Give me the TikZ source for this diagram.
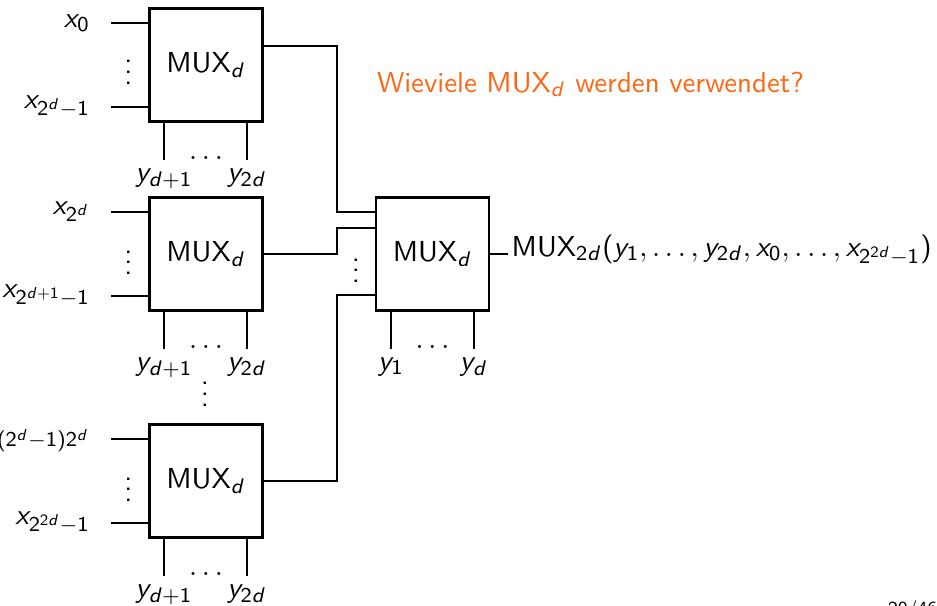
\documentclass[tikz,border=0pt]{standalone}
\usetikzlibrary{calc}
\DeclareSymbolFont{sfop}{OT1}{cmss}{m}{n}
\DeclareSymbolFont{sfit}{OT1}{cmss}{m}{sl}
\DeclareMathSymbol{x}{\mathalpha}{sfit}{`x}
\DeclareMathSymbol{y}{\mathalpha}{sfit}{`y}
\DeclareMathSymbol{d}{\mathalpha}{sfit}{`d}
\DeclareMathSymbol{0}{\mathalpha}{sfop}{`0}
\DeclareMathSymbol{1}{\mathalpha}{sfop}{`1}
\DeclareMathSymbol{2}{\mathalpha}{sfop}{`2}
\DeclareMathSymbol{(}{\mathopen}{sfop}{`(}
\DeclareMathSymbol{)}{\mathclose}{sfop}{`)}
\DeclareMathSymbol{+}{\mathbin}{sfop}{`+}
\DeclareMathSizes{10.95}{10.95}{8}{6.5}
\definecolor{qorange}{RGB}{255,102,20}
\begin{document}
\begin{tikzpicture}[x=0.379pt,y=-0.379pt,line width=0.8pt,
  font=\fontsize{10.95}{13}\selectfont\sffamily,
  mux/.style={draw,minimum width=42.8pt,minimum height=42.8pt,inner sep=0pt},
  lft/.style={inner sep=0pt,left=7.8pt},
  sel/.style={inner sep=0pt,anchor=base,yshift=-8.3pt},
  dts/.style={inner sep=0pt,anchor=base},
  ask/.style={inner sep=0pt,anchor=base west,text=qorange}]
\useasboundingbox (0,0) rectangle (937,605);
\clip (0,0) rectangle (937,605);

\node[mux] (b1) at (206,65) {MUX$_d$};
\node[mux] (b2) at (206,254) {MUX$_d$};
\node[mux] (b3) at (206,481) {MUX$_d$};
\node[mux] (m) at (432.5,254) {MUX$_d$};

% box 1
\draw ($(b1.west)+(0,-42)$) -- ++(-37,0) node[lft] {$x_0$};
\draw ($(b1.west)+(0,42)$) -- ++(-37,0) node[lft] {$x_{2^d-1}$};
\node[dts] (v1) at ($(b1.west)+(-20,19)$) {$\vdots$};
\draw ($(b1.south)+(-42,0)$) -- ++(0,37) node[sel] {$y_{d+1}$};
\draw ($(b1.south)+(41,0)$) -- ++(0,37) node[sel] {$y_{2d}$};
\node[dts] (h1) at ($(b1.south)+(0,37)$) {$\dots$};

% box 2
\draw ($(b2.west)+(0,-42)$) -- ++(-37,0) node[lft] {$x_{2^d}$};
\draw ($(b2.west)+(0,42)$) -- ++(-37,0) node[lft] {$x_{2^{d+1}-1}$};
\node[dts] (v2) at ($(b2.west)+(-20,20.5)$) {$\vdots$};
\draw ($(b2.south)+(-42,0)$) -- ++(0,37) node[sel] {$y_{d+1}$};
\draw ($(b2.south)+(41,0)$) -- ++(0,37) node[sel] {$y_{2d}$};
\node[dts] (h2) at ($(b2.south)+(0,37)$) {$\dots$};

\node[dts] (vv) at (205,406) {$\vdots$};

% box 3
\draw ($(b3.west)+(0,-42)$) -- ++(-37,0) node[lft] {$x_{(2^d-1)2^d}$};
\draw ($(b3.west)+(0,42)$) -- ++(-37,0) node[lft] {$x_{2^{2d}-1}$};
\node[dts] (v3) at ($(b3.west)+(-20,20.5)$) {$\vdots$};
\draw ($(b3.south)+(-42,0)$) -- ++(0,37) node[sel] {$y_{d+1}$};
\draw ($(b3.south)+(41,0)$) -- ++(0,37) node[sel] {$y_{2d}$};
\node[dts] (h3) at ($(b3.south)+(0,37)$) {$\dots$};

% main box
\node[dts] (vm) at ($(m.west)+(-19,28.5)$) {$\vdots$};
\draw ($(m.south)+(-41.5,0)$) -- ++(0,37) node[sel] {$y_1$};
\draw ($(m.south)+(41.5,0)$) -- ++(0,37) node[sel] {$y_d$};
\node[dts] (hm) at ($(m.south)+(0,37)$) {$\dots$};

% wires
\draw ($(b1.east)+(0,-19)$) -| ($(m.west)+(-38,-42)$) -- ($(m.west)+(0,-42)$);
\draw (b2.east) -- ($(m.west)+(-38,0)$) -- ($(m.west)+(-38,-26)$) -- ($(m.west)+(0,-26)$);
\draw (b3.east) -| ($(m.west)+(-38,41)$) -- ($(m.west)+(0,41)$);

% output
\draw (m.east) -- ++(18,0) node[inner sep=1pt,anchor=base west,yshift=-0.8pt] (out)
  {MUX$_{2d}(y_1,\dots,y_{2d},x_0,\dots,x_{2^{2d}-1})$};

\node[ask] (q) at (376,92) {Wieviele MUX$_d$ werden verwendet?};

\node[inner sep=0pt,anchor=north west,font=\fontsize{7}{8}\selectfont\sffamily] (pg) at (887,600) {20/46};
\end{tikzpicture}
\end{document}
